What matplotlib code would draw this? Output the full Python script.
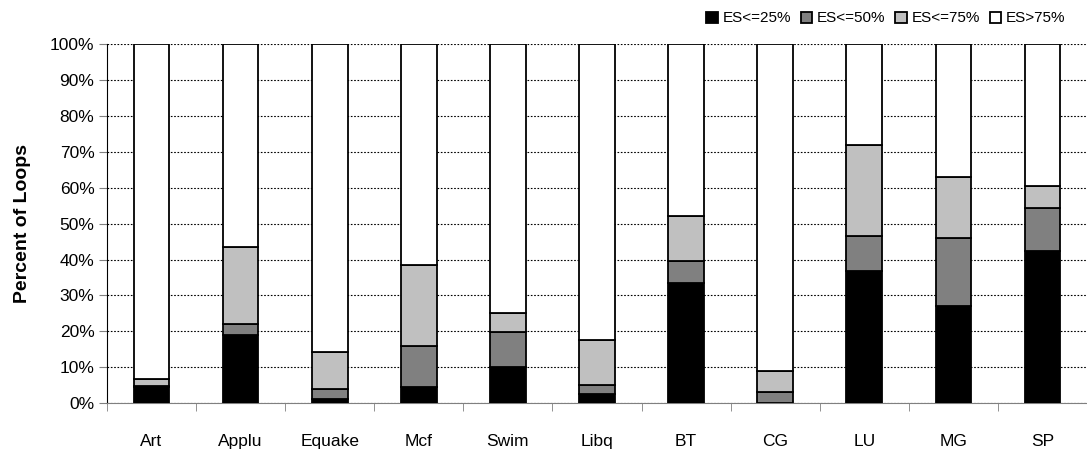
import numpy as np
import matplotlib
matplotlib.use('Agg')
import matplotlib.pyplot as plt
from matplotlib.ticker import FixedLocator, PercentFormatter

matplotlib.rc('font', family='Liberation Sans', size=12.5)

benchmarks = ['Art', 'Applu', 'Equake', 'Mcf', 'Swim', 'Libq', 'BT', 'CG', 'LU', 'MG', 'SP']
# percent of loops in each early-start bucket
es25 = [4.6, 18.9, 1.2, 4.6, 10.1, 2.6, 33.5, 0.0, 36.7, 27.1, 42.3]
es50 = [0.2, 3.3, 2.9, 11.3, 9.8, 2.6, 6.2, 3.2, 9.8, 18.9, 12.0]
es75 = [2.1, 21.4, 10.2, 22.6, 5.3, 12.3, 12.4, 5.8, 25.4, 17.1, 6.1]
es_gt75 = [93.1, 56.4, 85.7, 61.5, 74.8, 82.5, 47.9, 91.0, 28.1, 36.9, 39.6]

series = [(es25, '#000000', 'ES<=25%'),
          (es50, '#808080', 'ES<=50%'),
          (es75, '#c0c0c0', 'ES<=75%'),
          (es_gt75, '#ffffff', 'ES>75%')]

fig = plt.figure(figsize=(10.87, 4.53), dpi=100)
ax = fig.add_axes([0.0984, 0.1097, 0.9016, 0.7933])

x = np.arange(len(benchmarks))
bottom = np.zeros(len(benchmarks))
handles = []
for vals, color, label in series:
    vals = np.array(vals)
    h = ax.bar(x, vals, 0.4, bottom=bottom, color=color, edgecolor='black',
               linewidth=1.3, label=label, zorder=3)
    handles.append(h)
    bottom += vals

ax.set_xlim(-0.5, len(benchmarks) - 0.5)
ax.set_ylim(0, 100)
ax.set_yticks(np.arange(0, 101, 10))
ax.yaxis.set_major_formatter(PercentFormatter(decimals=0))
ax.set_ylabel('Percent of Loops', fontweight='bold', fontsize=14)
ax.yaxis.set_label_coords(-0.077, 0.5)

ax.set_xticks(x)
ax.set_xticklabels(benchmarks)
ax.xaxis.set_minor_locator(FixedLocator(np.arange(-0.5, len(benchmarks), 1.0)))
ax.tick_params(axis='x', which='major', length=0, pad=22)
ax.tick_params(axis='x', which='minor', length=6, color='#808080', direction='out')
ax.tick_params(axis='y', length=6, color='#808080', direction='out', pad=3)

ax.yaxis.grid(True, linestyle=(0, (1.5, 1.5)), color='black', linewidth=0.8, zorder=0)
for s in ['top', 'right']:
    ax.spines[s].set_visible(False)
ax.spines['bottom'].set_color('#808080')
ax.spines['left'].set_color('black')

fig.legend(handles=handles, loc='upper right', bbox_to_anchor=(0.9925, 1.005), ncol=4,
           frameon=False, handlelength=0.75, handleheight=0.75, handletextpad=0.3,
           columnspacing=0.65, fontsize=11)

plt.savefig('out.png', dpi=100)
